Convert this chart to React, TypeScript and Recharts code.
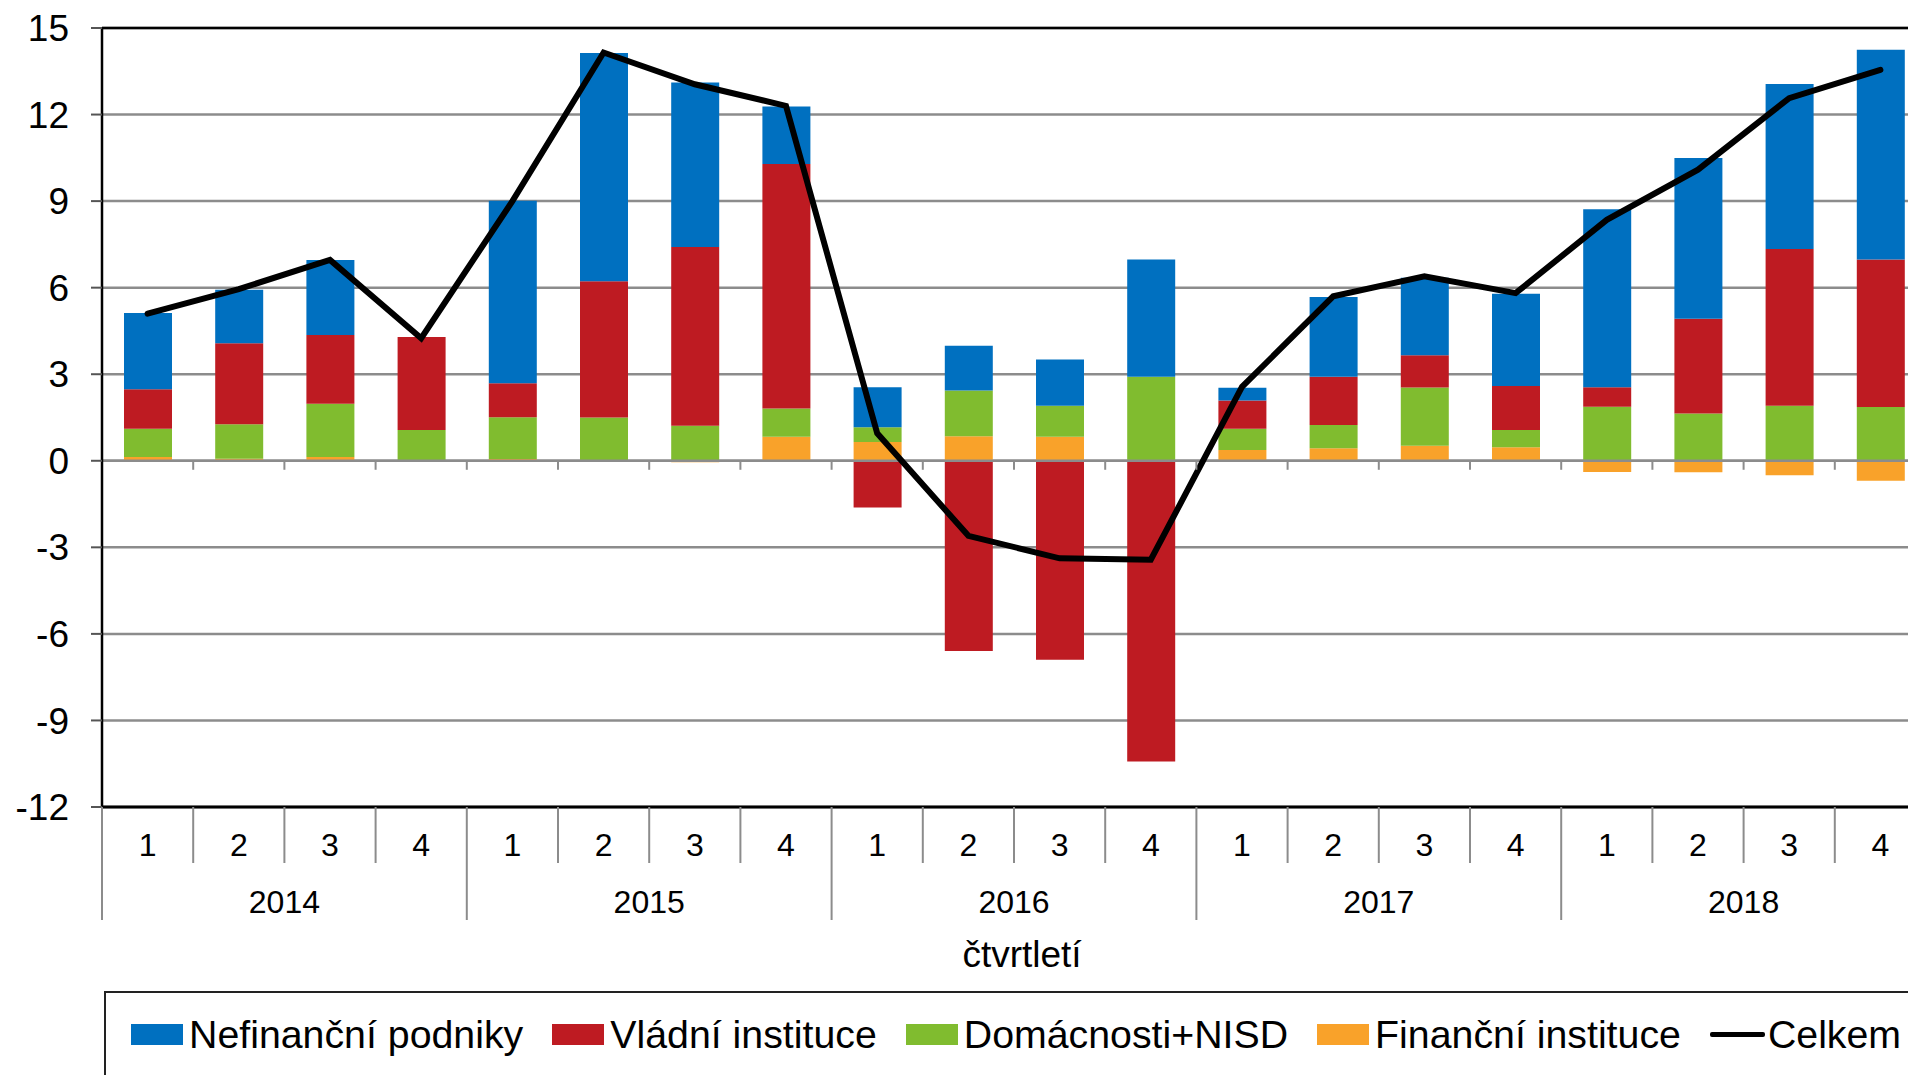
import React from "react"
import { Bar, CartesianGrid, ComposedChart, Line, ReferenceLine, XAxis, YAxis } from "recharts"

// categories
const years = ["2014", "2015", "2016", "2017", "2018"]
const quarters = ["1", "2", "3", "4"]

// series values
const nefinancni = [2.64, 1.86, 2.6, 0, 6.32, 7.91, 5.7, 1.99, 1.39, 1.55, 1.6, 4.07, 0.44, 2.77, 2.68, 3.2, 6.17, 5.57, 5.72, 7.27]
const vladni = [1.37, 2.8, 2.38, 3.22, 1.18, 4.72, 6.2, 8.48, -1.62, -6.59, -6.9, -10.42, 0.98, 1.67, 1.12, 1.52, 0.68, 3.28, 5.43, 5.12]
const domacnosti = [0.98, 1.2, 1.85, 1.07, 1.45, 1.5, 1.21, 0.98, 0.51, 1.59, 1.08, 2.91, 0.74, 0.81, 2.02, 0.6, 1.87, 1.64, 1.91, 1.86]
const financni = [0.13, 0.07, 0.13, 0, 0.06, 0, -0.05, 0.83, 0.65, 0.85, 0.83, 0, 0.37, 0.43, 0.52, 0.47, -0.39, -0.4, -0.5, -0.69]
const celkem = [5.1, 5.95, 6.96, 4.25, 9.0, 14.15, 13.05, 12.3, 0.95, -2.6, -3.38, -3.43, 2.56, 5.7, 6.39, 5.81, 8.35, 10.09, 12.57, 13.55]

const yTicks = [-12, -9, -6, -3, 0, 3, 6, 9, 12, 15]

const data = years.flatMap((y, yi) =>
  quarters.map((q, qi) => {
    const i = yi * 4 + qi
    return {
      key: `${y}-${q}`,
      nefinancni: nefinancni[i],
      vladni: vladni[i],
      domacnosti: domacnosti[i],
      financni: financni[i],
      celkem: celkem[i],
    }
  })
)

// layout
const CHART_W = 1940
const CHART_H = 1075
const TOP = 28
const AXIS_W = 102
const RIGHT = 14
const X_AXIS_H = 100
const BOTTOM = 168
const PLOT_H = CHART_H - TOP - BOTTOM - X_AXIS_H
const PLOT_BOTTOM = TOP + PLOT_H
const PLOT_W = CHART_W - AXIS_W - RIGHT
const HALF = PLOT_W / data.length / 2
const Y_MIN = -12
const Y_MAX = 15
const ZERO_Y = TOP + (Y_MAX / (Y_MAX - Y_MIN)) * PLOT_H

const GRID = "#8c8c8c"
const FONT = '"Liberation Sans", Arial, sans-serif'

const colors = {
  nefinancni: "#0070c0",
  vladni: "#be1b22",
  domacnosti: "#80bc2f",
  financni: "#f9a22a",
}

function CategoryTick(props: any) {
  const { x, payload } = props
  const i = payload?.index ?? props.index ?? 0
  const bx = x - HALF
  const yearStart = i % 4 === 0
  return (
    <g>
      <line x1={bx} x2={bx} y1={PLOT_BOTTOM} y2={yearStart ? 920 : 863} stroke={GRID} strokeWidth={2} />
      {i > 0 && <line x1={bx} x2={bx} y1={ZERO_Y} y2={ZERO_Y + 9} stroke={GRID} strokeWidth={2} />}
      <text x={x} y={845} dy="0.355em" textAnchor="middle" fontSize={32} fill="#000">
        {quarters[i % 4]}
      </text>
      {i % 4 === 1 && (
        <text x={x + HALF} y={902} dy="0.355em" textAnchor="middle" fontSize={32} fill="#000">
          {years[Math.floor(i / 4)]}
        </text>
      )}
    </g>
  )
}

function LegendItem({ color, label, line }: { color: string; label: string; line?: boolean }) {
  return (
    <div style={{ display: "flex", alignItems: "center", marginRight: 29 }}>
      {line ? (
        <div style={{ width: 55, height: 5, background: color, marginRight: 3, borderRadius: 2 }} />
      ) : (
        <div style={{ width: 52, height: 21, background: color, marginRight: 6 }} />
      )}
      <span style={{ fontSize: 39.3, lineHeight: 1, color: "#000", whiteSpace: "nowrap" }}>{label}</span>
    </div>
  )
}

export default function App() {
  return (
    <div
      style={{
        position: "absolute",
        left: 0,
        top: 0,
        width: 1908,
        height: 1075,
        overflow: "hidden",
        background: "#fff",
        fontFamily: FONT,
      }}
    >
      <ComposedChart
        width={CHART_W}
        height={CHART_H}
        data={data}
        stackOffset="sign"
        margin={{ top: TOP, right: RIGHT, bottom: BOTTOM, left: 0 }}
      >
        <CartesianGrid vertical={false} stroke={GRID} strokeWidth={2.5} />
        <XAxis
          dataKey="key"
          interval={0}
          height={X_AXIS_H}
          tickLine={false}
          axisLine={{ stroke: "#000", strokeWidth: 3 }}
          tick={<CategoryTick />}
        />
        <YAxis
          type="number"
          domain={[Y_MIN, Y_MAX]}
          ticks={yTicks}
          interval={0}
          width={AXIS_W}
          tickSize={11}
          tickMargin={22}
          axisLine={{ stroke: "#000", strokeWidth: 2.5 }}
          tickLine={{ stroke: "#555", strokeWidth: 2 }}
          tick={{ fontSize: 37, fill: "#000" }}
        />
        <Bar dataKey="financni" stackId="a" fill={colors.financni} barSize={48} isAnimationActive={false} />
        <Bar dataKey="domacnosti" stackId="a" fill={colors.domacnosti} barSize={48} isAnimationActive={false} />
        <Bar dataKey="vladni" stackId="a" fill={colors.vladni} barSize={48} isAnimationActive={false} />
        <Bar dataKey="nefinancni" stackId="a" fill={colors.nefinancni} barSize={48} isAnimationActive={false} />
        <ReferenceLine y={0} stroke={GRID} strokeWidth={2.5} />
        <ReferenceLine y={Y_MAX} stroke="#000" strokeWidth={2.5} />
        <Line
          dataKey="celkem"
          type="linear"
          stroke="#000"
          strokeWidth={6}
          strokeLinecap="round"
          dot={false}
          activeDot={false}
          isAnimationActive={false}
        />
      </ComposedChart>

      <div
        style={{
          position: "absolute",
          left: 822,
          width: 400,
          top: 936,
          textAlign: "center",
          fontSize: 37,
          lineHeight: 1,
          color: "#000",
        }}
      >
        čtvrtletí
      </div>

      <div
        style={{
          position: "absolute",
          left: 104,
          top: 991,
          width: 1900,
          height: 200,
          borderTop: "2px solid #222",
          borderLeft: "2px solid #222",
          boxSizing: "border-box",
        }}
      >
        <div style={{ display: "flex", paddingTop: 22, paddingLeft: 25 }}>
          <LegendItem color={colors.nefinancni} label="Nefinanční podniky" />
          <LegendItem color={colors.vladni} label="Vládní instituce" />
          <LegendItem color={colors.domacnosti} label="Domácnosti+NISD" />
          <LegendItem color={colors.financni} label="Finanční instituce" />
          <LegendItem color="#000" label="Celkem" line />
        </div>
      </div>
    </div>
  )
}
